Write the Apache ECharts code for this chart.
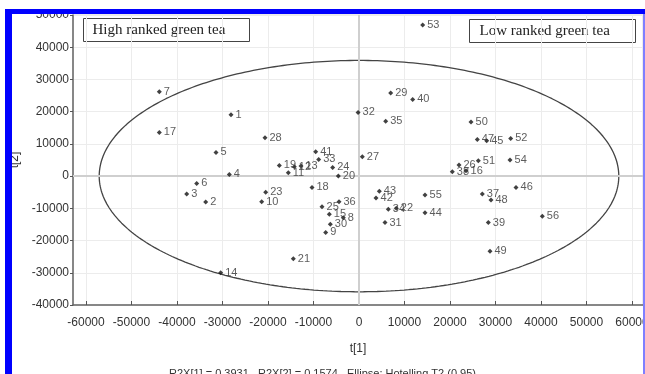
<!DOCTYPE html>
<html>
<head>
<meta charset="utf-8">
<script src="https://cdn.jsdelivr.net/npm/echarts@6/dist/echarts.min.js"></script>
<style>html,body{margin:0;padding:0;background:#fff;}#c{width:645px;height:374px;}</style>
</head>
<body>
<div id="c"></div>
<script>
// Sample ids and PCA scores
var ids = [1,2,3,4,5,6,7,8,9,10,11,12,13,14,15,16,17,18,19,20,21,22,23,24,25,26,27,28,29,30,31,32,33,34,35,36,37,38,39,40,41,42,43,44,45,46,47,48,49,50,51,52,53,54,55,56];
var t1 = [-28130,-33700,-37870,-28500,-31430,-35670,-43890,-3450,-7320,-21390,-15540,-14220,-12750,-30400,-6530,23520,-43890,-10330,-17520,-4540,-14440,8200,-20510,-5790,-8130,21980,730,-20660,6960,-6300,5710,-200,-8860,6440,5860,-4400,27100,20510,28420,11800,-9520,3740,4460,14510,28060,34510,26000,29010,28790,24620,26220,33340,14000,33190,14510,40290];
var t2 = [19040,-8000,-5590,520,7350,-2270,26180,-12890,-17480,-7970,1020,2890,3110,-30030,-11800,1650,13570,-3520,3320,0,-25680,-10000,-4970,2700,-9520,3420,6000,11900,25780,-14910,-14390,19780,5180,-10250,16990,-7970,-5590,1340,-14390,23810,7550,-6830,-4660,-11390,10960,-3510,11400,-7450,-23290,16770,4750,11710,46890,4970,-5900,-12420];
var xTicks = [-60000,-50000,-40000,-30000,-20000,-10000,0,10000,20000,30000,40000,50000,60000];
// Hotelling T2 (0.95) ellipse semi-axes
var ellA = 57100, ellB = 35900;

var pts = ids.map(function(id,i){ return {value:[t1[i],t2[i]], name:String(id)}; });
var ell = [];
for (var k=0;k<=360;k++){ var a=k*Math.PI/180; ell.push([ellA*Math.cos(a), ellB*Math.sin(a)]); }

var chart = echarts.init(document.getElementById('c'), null, {renderer:'canvas'});
var lab = {fontFamily:'Liberation Sans, Arial, sans-serif', fontSize:12, color:'#333', formatter:function(v){return String(v);}};
chart.setOption({
  animation:false,
  backgroundColor:'#fff',
  grid:{left:73, right:2, top:15, bottom:69, containLabel:false, outerBoundsMode:'none', show:true, borderColor:'#d8d8d8', borderWidth:1},
  xAxis:{type:'value', min:-62860, max:62420,
    name:'t[1]', nameLocation:'middle', nameGap:38,
    nameTextStyle:{fontFamily:'Liberation Sans, Arial, sans-serif', fontSize:12, color:'#333'},
    axisLine:{onZero:false, lineStyle:{color:'#666', width:1.5}},
    axisTick:{inside:true, length:4, customValues:xTicks, lineStyle:{color:'#555'}},
    axisLabel:Object.assign({customValues:xTicks, margin:12}, lab),
    splitLine:{show:true, lineStyle:{color:'#ececec', width:1}}
  },
  yAxis:{type:'value', min:-40000, max:50000, interval:10000,
    name:'t[2]', nameLocation:'middle', nameGap:47,
    nameTextStyle:{fontFamily:'Liberation Sans, Arial, sans-serif', fontSize:12, color:'#333'},
    axisLine:{onZero:false, lineStyle:{color:'#666', width:1.5}},
    axisTick:{length:3, lineStyle:{color:'#555'}},
    axisLabel:Object.assign({margin:4}, lab),
    splitLine:{show:true, lineStyle:{color:'#ececec', width:1}}
  },
  series:[
    {type:'line', data:ell, showSymbol:false, symbol:'none', silent:true,
     lineStyle:{color:'#444', width:1.3}, z:2,
     markLine:{silent:true, symbol:'none', label:{show:false},
       lineStyle:{color:'#cfcfcf', width:2, type:'solid'},
       data:[{xAxis:0},{yAxis:0}]}
    },
    {type:'scatter', data:pts, symbol:'diamond', symbolSize:5,
     itemStyle:{color:'#111'}, z:5,
     label:{show:true, position:'right', distance:2, formatter:'{b}',
       fontFamily:'Liberation Sans, Arial, sans-serif', fontSize:11, color:'#333'}
    }
  ],
  graphic:[
    {type:'group', left:83, top:18, children:[
      {type:'rect', shape:{x:0,y:0,width:166,height:23}, style:{fill:'#fff', stroke:'#444', lineWidth:1}},
      {type:'text', x:9, y:4, style:{text:'High ranked green tea', font:'15px "Liberation Serif", serif', fill:'#222'}}
    ]},
    {type:'group', left:469, top:19, children:[
      {type:'rect', shape:{x:0,y:0,width:166,height:23}, style:{fill:'#fff', stroke:'#444', lineWidth:1}},
      {type:'text', x:10, y:4, style:{text:'Low ranked green tea', font:'15px "Liberation Serif", serif', fill:'#222'}}
    ]},
    {type:'text', left:'center', top:368, style:{text:'R2X[1] = 0.3931   R2X[2] = 0.1574   Ellipse: Hotelling T2 (0.95)', font:'11px "Liberation Sans", Arial, sans-serif', fill:'#333'}, z:50},
    {type:'rect', shape:{x:5,y:9,width:640,height:5}, style:{fill:'#0000ff'}, z:100},
    {type:'rect', shape:{x:5,y:9,width:7,height:365}, style:{fill:'#0000ff'}, z:100},
    {type:'rect', shape:{x:643,y:14,width:2,height:360}, style:{fill:'#7f7fff'}, z:100}
  ]
});
</script>
</body>
</html>
